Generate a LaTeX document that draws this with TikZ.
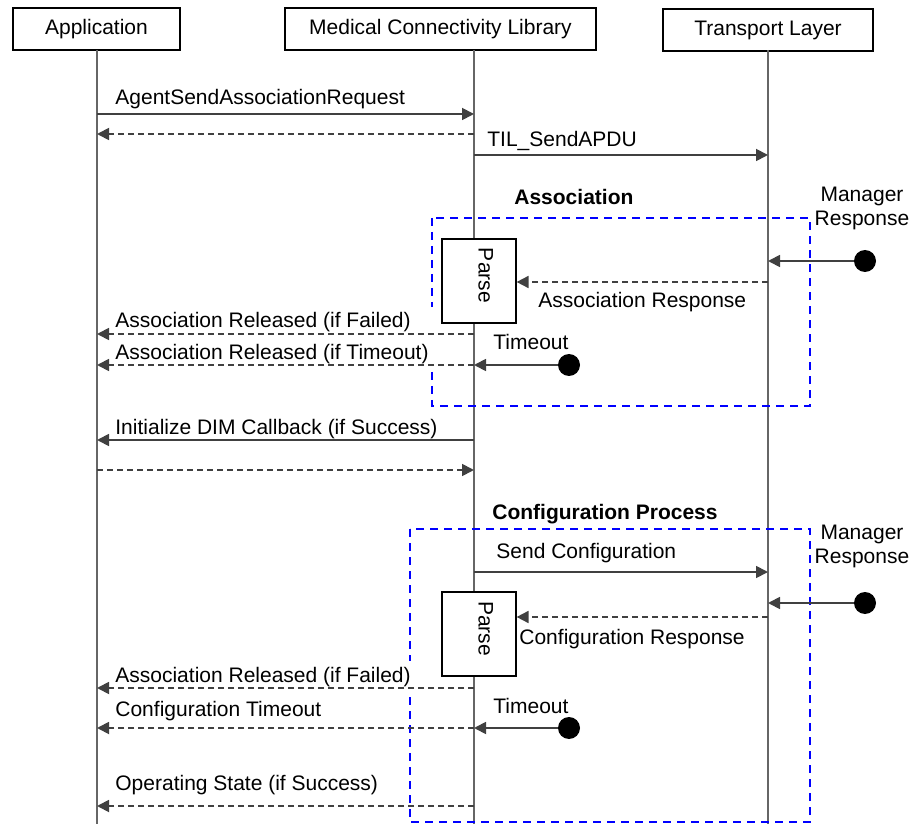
\documentclass[tikz,border=0pt]{standalone}
\usepackage{fontspec}
\setmainfont{Liberation Sans}
\usetikzlibrary{arrows.meta}

\tikzset{
	lifebox/.style={draw, line width=0.6pt, minimum height=21pt, inner sep=0pt},
	lifeline/.style={black!60, line width=1pt},
	msg/.style={black!75, line width=0.9pt, -{Triangle[length=6pt,width=6pt]}},
	reply/.style={msg, dash pattern=on 3pt off 2pt},
	group/.style={blue, line width=1pt, dash pattern=on 4pt off 3pt},
	parsebox/.style={draw, fill=white, line width=0.6pt, minimum width=37pt, minimum height=42pt, inner sep=0pt},
	lbl/.style={anchor=base west, inner sep=0pt},
	cut/.style={lbl, fill=white, inner ysep=3pt, execute at end node=\hspace*{11pt}},
	dot/.style={circle, fill=black, minimum size=11pt, inner sep=0pt}
}
\newcommand{\parsetext}{\rotatebox{-90}{\makebox[33pt][l]{\raisebox{0pt}[7.5pt][7pt]{Parse}}}}

\begin{document}
\begin{tikzpicture}[x=0.5pt, y=-0.5pt, every node/.style={font=\fontsize{10.5}{12}\selectfont}]
	\useasboundingbox (0,0) rectangle (912,824);

	% Participants
		\node[lifebox, minimum width=83.5pt]  (app) at (96.5,29)  {Application};
		\node[lifebox, minimum width=155.5pt] (mcl) at (440.5,29) {Medical Connectivity Library};
		\node[lifebox, minimum width=105pt]   (tl)  at (768,30)   {Transport Layer};
		\coordinate (appL) at (97,50);
		\coordinate (mclL) at (474,50);
		\coordinate (tlL)  at (768,50);
		\coordinate (bot)  at (0,824);
		\draw[lifeline] (appL) -- (appL |- bot);
		\draw[lifeline] (mclL) -- (mclL |- bot);
		\draw[lifeline] (tlL) -- (tlL |- bot);

	% Rows of the messages
		\foreach \name/\y in {r1/114, r2/134, r3/155, r6/334, r7/365, r8/440, r9/470,
			r10/572, r13/688, r14/728, r15/806}
			\coordinate (\name) at (0,\y);

	% Groups
		\draw[group] (432,218) rectangle (810,406);
		\draw[group] (410,529) rectangle (810,822);
		\node[lbl, font=\fontsize{10.5}{12}\selectfont\bfseries] (assocTtl) at (514,205) {Association};
		\node[lbl, font=\fontsize{10.5}{12}\selectfont\bfseries] (confTtl) at (492,519) {Configuration Process};

	% Parse boxes
		\node[parsebox] (parseA) at (479,281) {\parsetext};
		\node[parsebox] (parseB) at (479,634) {\parsetext};

	% Labels
		\node[cut] (l1)  at (115,105) {AgentSendAssociationRequest};
		\node[lbl] (l3)  at (487,147) {TIL\_SendAPDU};
		\node[align=center] (mgrA) at (862,208) {Manager\\Response};
		\node[lbl] (l5)  at (538,307) {Association Response};
		\node[cut] (l6)  at (115,328) {Association Released (if Failed)};
		\node[lbl] (toA) at (493,350) {Timeout};
		\node[cut] (l7)  at (115,359) {Association Released (if Timeout)};
		\node[cut] (l8)  at (115,435) {Initialize DIM Callback (if Success)};
		\node[align=center] (mgrB) at (862,546) {Manager\\Response};
		\node[lbl] (l10) at (496,558) {Send Configuration};
		\node[lbl] (l12) at (519,644) {Configuration Response};
		\node[cut] (l13) at (115,682) {Association Released (if Failed)};
		\node[lbl] (toB) at (493,713) {Timeout};
		\node[cut] (l14) at (115,716) {Configuration Timeout};
		\node[cut] (l15) at (115,790) {Operating State (if Success)};

	% Events
		\node[dot] (mgrDotA) at (865,261) {};
		\node[dot] (toDotA)  at (569,365) {};
		\node[dot] (mgrDotB) at (865,603) {};
		\node[dot] (toDotB)  at (569,728) {};

	% Messages
		% Association
			\draw[msg]   (appL |- r1) -- (mclL |- r1);
			\draw[reply] (mclL |- r2) -- (appL |- r2);
			\draw[msg]   (mclL |- r3) -- (tlL |- r3);
			\draw[msg]   (mgrDotA) -- (tlL |- mgrDotA);
			\draw[reply] (tlL |- 0,282) coordinate (rA) -- (parseA.east |- rA);
			\draw[reply] (mclL |- r6) -- (appL |- r6);
			\draw[msg]   (toDotA) -- (mclL |- toDotA);
			\draw[reply] (mclL |- r7) -- (appL |- r7);
			\draw[msg]   (mclL |- r8) -- (appL |- r8);
			\draw[reply] (appL |- r9) -- (mclL |- r9);
		% Configuration
			\draw[msg]   (mclL |- r10) -- (tlL |- r10);
			\draw[msg]   (mgrDotB) -- (tlL |- mgrDotB);
			\draw[reply] (tlL |- 0,617) coordinate (rB) -- (parseB.east |- rB);
			\draw[reply] (mclL |- r13) -- (appL |- r13);
			\draw[msg]   (toDotB) -- (mclL |- toDotB);
			\draw[reply] (mclL |- r14) -- (appL |- r14);
			\draw[reply] (mclL |- r15) -- (appL |- r15);
\end{tikzpicture}
\end{document}
